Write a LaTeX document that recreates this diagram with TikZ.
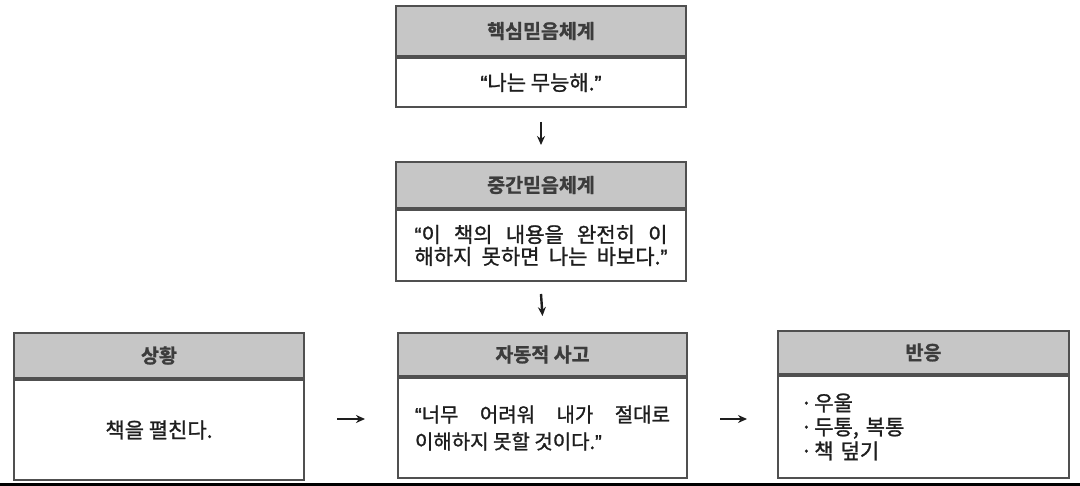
\documentclass[tikz,border=0pt]{standalone}
\usepackage{fontspec}
\setmainfont{Noto Sans CJK KR}
\newfontfamily\krbody[FakeBold=1.2]{Noto Sans CJK KR}
\newfontfamily\krhead[FakeBold=1.2]{Noto Sans CJK KR Bold}
\newfontfamily\qfont[FakeBold=1.5]{Liberation Sans}
\newcommand\oqm{{\qfont “}}
\newcommand\cqm{{\qfont ”}}
\usetikzlibrary{arrows.meta}
\definecolor{hdrgray}{RGB}{198,198,198}
\definecolor{edge}{RGB}{80,80,80}
\definecolor{ink}{RGB}{30,30,30}
\definecolor{hink}{RGB}{60,60,60}
\tikzset{
  hdr/.style={draw=edge, line width=2pt, fill=hdrgray, anchor=north west, inner sep=0pt,
    font=\krhead\fontsize{19.5}{22}\selectfont, text=hink},
  bodybox/.style={draw=edge, line width=2pt, fill=white, anchor=north, inner sep=0pt,
    font=\krbody\fontsize{21}{23}\selectfont, text=ink},
  arr/.style={draw=ink, line width=2.4pt, -{Stealth[length=9pt,width=8pt]}}
}
\begin{document}
\begin{tikzpicture}[x=1pt,y=-1pt]
\useasboundingbox (0,0) rectangle (1080,486);
\fill[white] (0,0) rectangle (1080,486);
\fill[black] (0,483) rectangle (1080,486);
% top box
\node[hdr, minimum width=290pt, minimum height=50pt] (h1) at (395,5) {핵심믿음체계};
\node[bodybox, minimum width=290pt, minimum height=49pt] (b1) at (h1.south) {\oqm 나는 무능해.\cqm};
% middle box
\node[hdr, minimum width=290pt, minimum height=46pt] (h2) at (395,161) {중간믿음체계};
\node[bodybox, minimum width=290pt, minimum height=71pt] (b2) at (h2.south)
  {\parbox{253pt}{\fontsize{21}{22}\selectfont\makebox[253pt][s]{\oqm 이 책의 내용을 완전히 이}\\\makebox[253pt][s]{해하지 못하면 나는 바보다.\cqm}}};
% bottom row
\node[hdr, minimum width=290pt, minimum height=45pt] (h3) at (13,332) {상황};
\node[bodybox, minimum width=290pt, minimum height=100pt] (b3) at (h3.south) {책을 펼친다.};
\node[hdr, minimum width=289pt, minimum height=43pt] (h4) at (397,332) {자동적 사고};
\node[bodybox, minimum width=289pt, minimum height=100pt] (b4) at (h4.south)
  {\parbox{255pt}{\fontsize{20}{27}\selectfont\makebox[255pt][s]{\oqm 너무 어려워 내가 절대로}\\이해하지 못할 것이다.\cqm}};
\node[hdr, minimum width=291pt, minimum height=43pt] (h5) at (777,330) {반응};
\node[bodybox, minimum width=291pt, minimum height=102pt, align=left, text width=246pt, font=\krbody\fontsize{21}{24}\selectfont] (b5) at (h5.south)
  {·\kern2pt 우울\\·\kern2pt 두통, 복통\\·\kern2pt 책 덮기};
% arrows
\draw[arr] ([yshift=-14pt]b1.south) -- ([yshift=16pt]h2.north);
\draw[arr] ([yshift=-12pt]b2.south) -- ([yshift=16pt]h4.north);
\draw[arr] ([xshift=32pt,yshift=11pt]b3.east) -- ([xshift=-32pt,yshift=9pt]b4.west);
\draw[arr] ([xshift=32pt,yshift=9pt]b4.east) -- ([xshift=-30pt,yshift=8pt]b5.west);
\end{tikzpicture}
\end{document}
